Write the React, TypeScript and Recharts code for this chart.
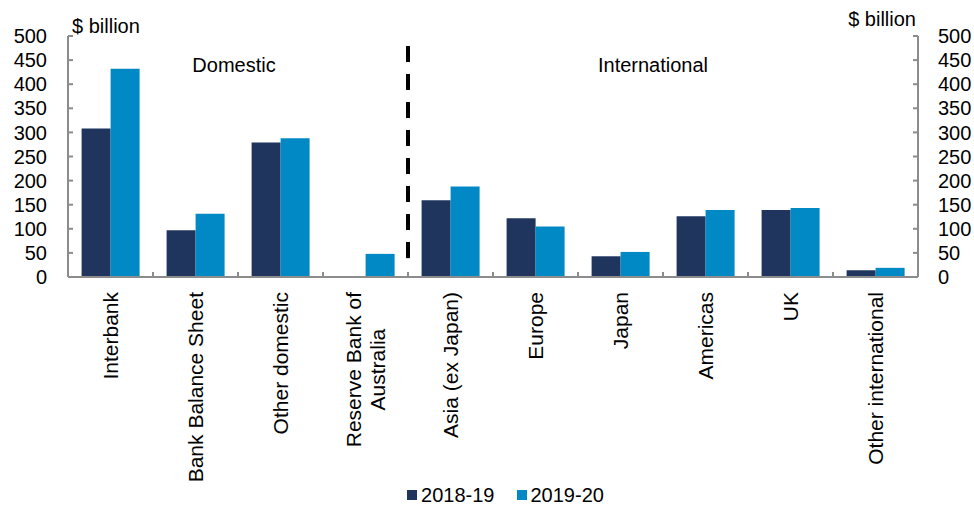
import { Bar, ComposedChart, Legend, Line, ReferenceLine, XAxis, YAxis } from 'recharts';

const categories = [
  'Interbank',
  'Bank Balance Sheet',
  'Other domestic',
  'Reserve Bank of\nAustralia',
  'Asia (ex Japan)',
  'Europe',
  'Japan',
  'Americas',
  'UK',
  'Other international',
];
const fy1819 = [308, 97, 279, 0, 159, 122, 43, 126, 139, 14];
const fy1920 = [432, 131, 288, 48, 188, 105, 52, 139, 143, 19];
const yTicks = [0, 50, 100, 150, 200, 250, 300, 350, 400, 450, 500];
const seriesNames = ['2018-19', '2019-20'];

const DARK = '#1f355e';
const LIGHT = '#0089c4';
const AXIS = '#8c8c8c';
const FONT = '"Liberation Sans", Arial, sans-serif';

const data = categories.map((name, i) => ({ name, a: fy1819[i], b: fy1920[i] }));

let measureCtx: CanvasRenderingContext2D | null = null;
function textWidth(s: string) {
  if (!measureCtx) measureCtx = document.createElement('canvas').getContext('2d');
  if (!measureCtx) return s.length * 10;
  measureCtx.font = `21px ${FONT}`;
  return measureCtx.measureText(s).width;
}

function CategoryTick(props: any) {
  const { x, y, payload } = props;
  const off = payload?.offset ?? 42.5;
  const lines = String(payload.value).split('\n');
  const gap = 15;
  let label;
  if (lines.length === 1) {
    label = (
      <text
        transform={`translate(${x},${y + gap}) rotate(-90)`}
        textAnchor="end"
        dy="0.35em"
        fontSize={21}
        fontFamily={FONT}
        fill="#000"
      >
        {lines[0]}
      </text>
    );
  } else {
    const maxW = Math.max(...lines.map(textWidth));
    label = (
      <text
        transform={`translate(${x},${y + gap}) rotate(-90)`}
        textAnchor="middle"
        fontSize={21}
        fontFamily={FONT}
        fill="#000"
      >
        {lines.map((l, i) => (
          <tspan key={i} x={-maxW / 2} y={(i - (lines.length - 1) / 2) * 24} dy="0.35em">
            {l}
          </tspan>
        ))}
      </text>
    );
  }
  return (
    <g>
      <line x1={x - off} x2={x - off} y1={y} y2={y - 5} stroke={AXIS} strokeWidth={2} />
      {label}
    </g>
  );
}

function LegendContent() {
  const colors = [DARK, LIGHT];
  return (
    <div
      style={{
        height: 30,
        boxSizing: 'border-box',
        paddingTop: 8,
        paddingLeft: 37,
        display: 'flex',
        justifyContent: 'center',
        alignItems: 'center',
        fontFamily: FONT,
        fontSize: 20,
        lineHeight: '22px',
        color: '#000',
      }}
    >
      {seriesNames.map((n, i) => (
        <div key={n} style={{ display: 'flex', alignItems: 'center', marginLeft: i ? 22 : 0 }}>
          <span style={{ width: 10, height: 10, background: colors[i], marginRight: 4 }} />
          <span>{n}</span>
        </div>
      ))}
    </div>
  );
}

const textStyle = {
  position: 'absolute' as const,
  fontFamily: FONT,
  fontSize: 20,
  lineHeight: '20px',
  color: '#000',
  whiteSpace: 'nowrap' as const,
};

const yAxisCommon = {
  domain: [0, 500] as [number, number],
  ticks: yTicks,
  interval: 0 as const,
  tickSize: -5,
  axisLine: { stroke: AXIS, strokeWidth: 2 },
  tickLine: { stroke: AXIS, strokeWidth: 2 },
  tick: { fill: '#000', fontSize: 20, fontFamily: FONT },
};

export default function App() {
  return (
    <div style={{ position: 'absolute', left: 0, top: 0, width: 974, height: 506, background: '#fff' }}>
      <ComposedChart
        width={974}
        height={506}
        data={data}
        margin={{ top: 36, right: 0, bottom: 0, left: 0 }}
        barCategoryGap="16%"
        barGap={0}
      >
        <XAxis
          dataKey="name"
          interval={0}
          height={199}
          tickLine={false}
          tickSize={0}
          tickMargin={0}
          axisLine={{ stroke: AXIS, strokeWidth: 2 }}
          tick={<CategoryTick />}
        />
        <YAxis yAxisId="left" width={68} tickMargin={26} {...yAxisCommon} />
        <YAxis yAxisId="right" orientation="right" width={56} tickMargin={25} {...yAxisCommon} />
        <Legend verticalAlign="bottom" content={<LegendContent />} />
        <Bar yAxisId="left" dataKey="a" name={seriesNames[0]} fill={DARK} isAnimationActive={false} />
        <Bar yAxisId="left" dataKey="b" name={seriesNames[1]} fill={LIGHT} isAnimationActive={false} />
        <Line
          yAxisId="right"
          dataKey="b"
          stroke="none"
          dot={false}
          activeDot={false}
          legendType="none"
          isAnimationActive={false}
        />
        <ReferenceLine
          yAxisId="left"
          segment={[
            { x: categories[3], y: 479 },
            { x: categories[3], y: 37 },
          ]}
          position="end"
          stroke="#000"
          strokeWidth={4}
          strokeDasharray="16 12"
        />
      </ComposedChart>
      <div style={{ ...textStyle, left: 72, top: 16 }}>$ billion</div>
      <div style={{ ...textStyle, right: 974 - 916, top: 9 }}>$ billion</div>
      <div style={{ ...textStyle, left: 234, top: 55, transform: 'translateX(-50%)' }}>Domestic</div>
      <div style={{ ...textStyle, left: 653, top: 55, transform: 'translateX(-50%)' }}>International</div>
    </div>
  );
}
